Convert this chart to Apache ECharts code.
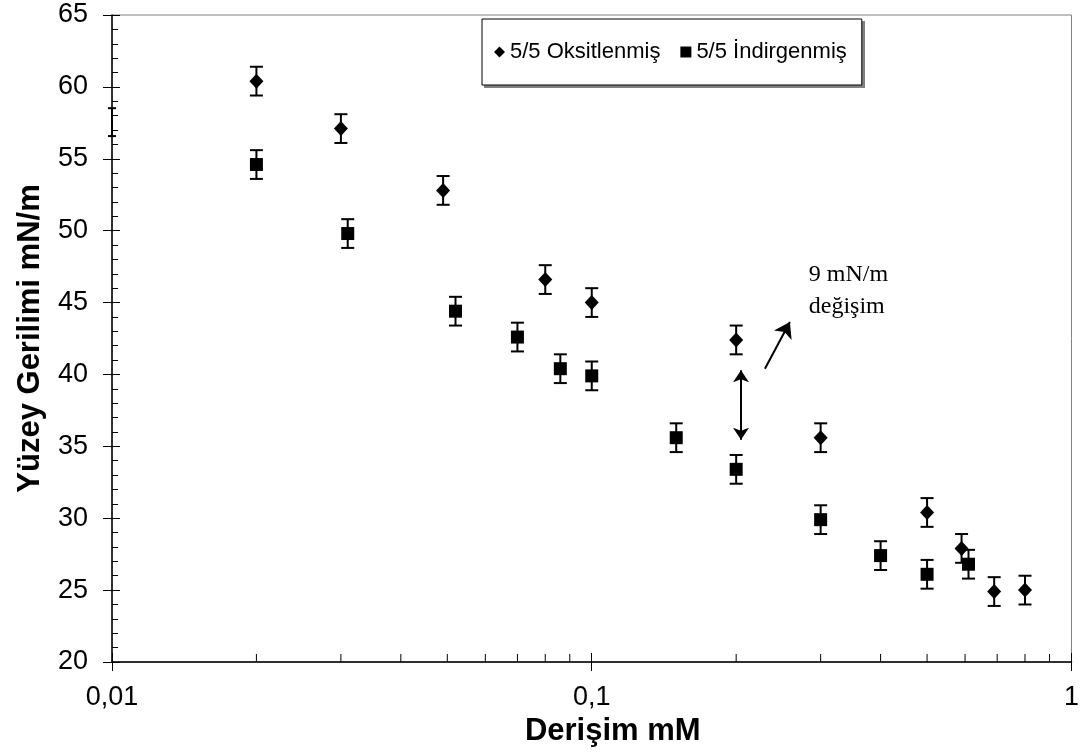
<!DOCTYPE html>
<html>
<head>
<meta charset="utf-8">
<script src="https://cdn.jsdelivr.net/npm/echarts@6/dist/echarts.min.js"></script>
<style>
html,body{margin:0;padding:0;background:#fff;}
#c{width:1082px;height:753px;}
</style>
</head>
<body>
<div id="c"></div>
<script>
// ---- data ----
var seriesNames = ['5/5 Oksitlenmiş', '5/5 İndirgenmiş'];
var oxX = [0.02, 0.03, 0.049, 0.08, 0.1, 0.2, 0.3, 0.5, 0.59, 0.69, 0.8];
var oxY = [60.4, 57.1, 52.8, 46.6, 45.0, 42.4, 35.6, 30.4, 27.9, 24.9, 25.0];
var oxErr = [1, 1, 1, 1, 1, 1, 1, 1, 1, 1, 1];
var redX = [0.02, 0.031, 0.052, 0.07, 0.086, 0.1, 0.15, 0.2, 0.3, 0.4, 0.5, 0.61];
var redY = [54.6, 49.8, 44.4, 42.6, 40.4, 39.9, 35.6, 33.4, 29.9, 27.4, 26.1, 26.8];
var redErr = [1, 1, 1, 1, 1, 1, 1, 1, 1, 1, 1, 1];
// lone error bar drawn on the y axis in the reference
var strayX = [0.01];
var strayY = [57.55];
var strayErr = [0.97];
var xMinorTicks = [0.02, 0.03, 0.04, 0.05, 0.06, 0.07, 0.08, 0.09, 0.2, 0.3, 0.4, 0.5, 0.6, 0.7, 0.8, 0.9];
var yTickMin = 20, yTickMax = 65, yTickStep = 5;
var xTickMin = 0.01, xTickMax = 1;
// annotation: double arrow, pointer arrow, text
var dblArrow = [[0.2047, 40.3], [0.2047, 35.45]];
var ptrArrow = [[0.2296, 40.4], [0.2588, 43.65]];
var noteText = '9 mN/m\ndeğişim';
var notePos = [0.2834, 45.8];

var SANS = '"Liberation Sans", Arial, Helvetica, sans-serif';
var SERIF = '"Liberation Serif", "Times New Roman", serif';

function pts(xs, ys) { return xs.map(function (x, i) { return [x, ys[i]]; }); }
function bars(xs, ys, es) { return xs.map(function (x, i) { return [x, ys[i] - es[i], ys[i] + es[i]]; }); }

function errRender(cap) {
  return function (params, api) {
    var x = api.value(0);
    var lo = api.coord([x, api.value(1)]);
    var hi = api.coord([x, api.value(2)]);
    var st = { stroke: '#000', lineWidth: 2 };
    return {
      type: 'group',
      children: [
        { type: 'line', shape: { x1: lo[0], y1: lo[1], x2: hi[0], y2: hi[1] }, style: st },
        { type: 'line', shape: { x1: lo[0] - cap, y1: lo[1], x2: lo[0] + cap, y2: lo[1] }, style: st },
        { type: 'line', shape: { x1: hi[0] - cap, y1: hi[1], x2: hi[0] + cap, y2: hi[1] }, style: st }
      ]
    };
  };
}

var chart = echarts.init(document.getElementById('c'), null, { renderer: 'canvas' });

var axisLabelStyle = { color: '#000', fontSize: 27, fontFamily: SANS };

var option = {
  animation: false,
  backgroundColor: '#fff',
  grid: {
    left: 112, right: 6, top: 15, bottom: 91,
    show: true, borderColor: '#808080', borderWidth: 1, backgroundColor: 'transparent'
  },
  graphic: [
    { type: 'rect', left: 484, top: 21, shape: { width: 381, height: 67 }, style: { fill: '#808080' }, z: 3, silent: true }
  ],
  legend: {
    data: [
      { name: seriesNames[0], icon: 'diamond' },
      { name: seriesNames[1], icon: 'rect' }
    ],
    left: 482, top: 19,
    orient: 'horizontal',
    itemWidth: 11, itemHeight: 11, itemGap: 20,
    padding: [22, 15, 22, 12],
    borderColor: '#000', borderWidth: 1,
    backgroundColor: '#fff',
    textStyle: { color: '#000', fontSize: 22, fontFamily: SANS },
    selectedMode: false, z: 6
  },
  xAxis: [
    {
      type: 'log', logBase: 10, min: xTickMin, max: xTickMax,
      name: 'Derişim mM', nameLocation: 'middle', nameGap: 53,
      nameTextStyle: { color: '#000', fontSize: 31, fontWeight: 'bold', fontFamily: SANS, padding: [0, 0, 0, 42] },
      axisLine: { show: true, lineStyle: { color: '#000', width: 1.5 } },
      axisTick: { show: true, inside: true, length: 9, lineStyle: { color: '#000' } },
      axisLabel: Object.assign({ margin: 22, formatter: function (v) { return String(v).replace('.', ','); } }, axisLabelStyle),
      splitLine: { show: false }
    },
    {
      type: 'log', logBase: 10, min: xTickMin, max: xTickMax, position: 'bottom', offset: 0,
      axisLine: { show: false },
      axisTick: { show: true, inside: false, length: 9, lineStyle: { color: '#000' } },
      axisLabel: { show: false },
      splitLine: { show: false }
    }
  ],
  yAxis: [
    {
      type: 'value', min: yTickMin, max: yTickMax, interval: yTickStep,
      name: 'Yüzey Gerilimi mN/m', nameLocation: 'middle', nameGap: 66, nameRotate: 90,
      nameTextStyle: { color: '#000', fontSize: 31, fontWeight: 'bold', fontFamily: SANS },
      axisLine: { show: true, lineStyle: { color: '#000', width: 1.5 } },
      axisTick: { show: true, inside: true, length: 8, lineStyle: { color: '#000' } },
      minorTick: { show: true, splitNumber: 5, length: 6, lineStyle: { color: '#000' } },
      axisLabel: Object.assign({ margin: 24 }, axisLabelStyle),
      splitLine: { show: false }
    },
    {
      type: 'value', min: yTickMin, max: yTickMax, interval: yTickStep, position: 'left', offset: 0,
      axisLine: { show: false },
      axisTick: { show: true, inside: false, length: 9, lineStyle: { color: '#000' } },
      axisLabel: { show: false },
      splitLine: { show: false }
    }
  ],
  series: [
    {
      name: 'minorTicksX', type: 'custom', xAxisIndex: 0, yAxisIndex: 0,
      data: xMinorTicks.map(function (v) { return [v, yTickMin]; }),
      renderItem: function (params, api) {
        var p = api.coord([api.value(0), api.value(1)]);
        return { type: 'line', shape: { x1: p[0], y1: p[1], x2: p[0], y2: p[1] - 8 }, style: { stroke: '#000', lineWidth: 1 } };
      },
      silent: true, z: 3
    },
    {
      name: 'errOx', type: 'custom', data: bars(oxX, oxY, oxErr),
      encode: { x: 0, y: [1, 2] }, renderItem: errRender(6.5), silent: true, z: 4
    },
    {
      name: 'errRed', type: 'custom', data: bars(redX, redY, redErr),
      encode: { x: 0, y: [1, 2] }, renderItem: errRender(6.5), silent: true, z: 4
    },
    {
      name: 'errStray', type: 'custom', data: bars(strayX, strayY, strayErr),
      encode: { x: 0, y: [1, 2] }, renderItem: errRender(4), silent: true, z: 4, clip: false
    },
    {
      name: seriesNames[0], type: 'scatter', data: pts(oxX, oxY),
      symbol: 'diamond', symbolSize: [14, 15],
      itemStyle: { color: '#000', opacity: 1 }, z: 5
    },
    {
      name: seriesNames[1], type: 'scatter', data: pts(redX, redY),
      symbol: 'rect', symbolSize: 13,
      itemStyle: { color: '#000', opacity: 1 }, z: 5,
      markLine: {
        silent: true, animation: false, symbolSize: 12,
        lineStyle: { color: '#000', width: 2, type: 'solid' },
        label: { show: false },
        data: [
          [{ coord: dblArrow[0], symbol: 'arrow' }, { coord: dblArrow[1], symbol: 'arrow' }],
          [{ coord: ptrArrow[0], symbol: 'none' }, { coord: ptrArrow[1], symbol: 'arrow', symbolSize: 15 }]
        ]
      },
      markPoint: {
        silent: true, animation: false,
        symbol: 'circle', symbolSize: 0,
        data: [{ coord: notePos, value: 0 }],
        label: {
          show: true, position: 'inside', formatter: noteText,
          align: 'left', verticalAlign: 'middle',
          color: '#000', fontSize: 24, lineHeight: 32, fontFamily: SERIF
        }
      }
    }
  ]
};
chart.setOption(option);
</script>
</body>
</html>
